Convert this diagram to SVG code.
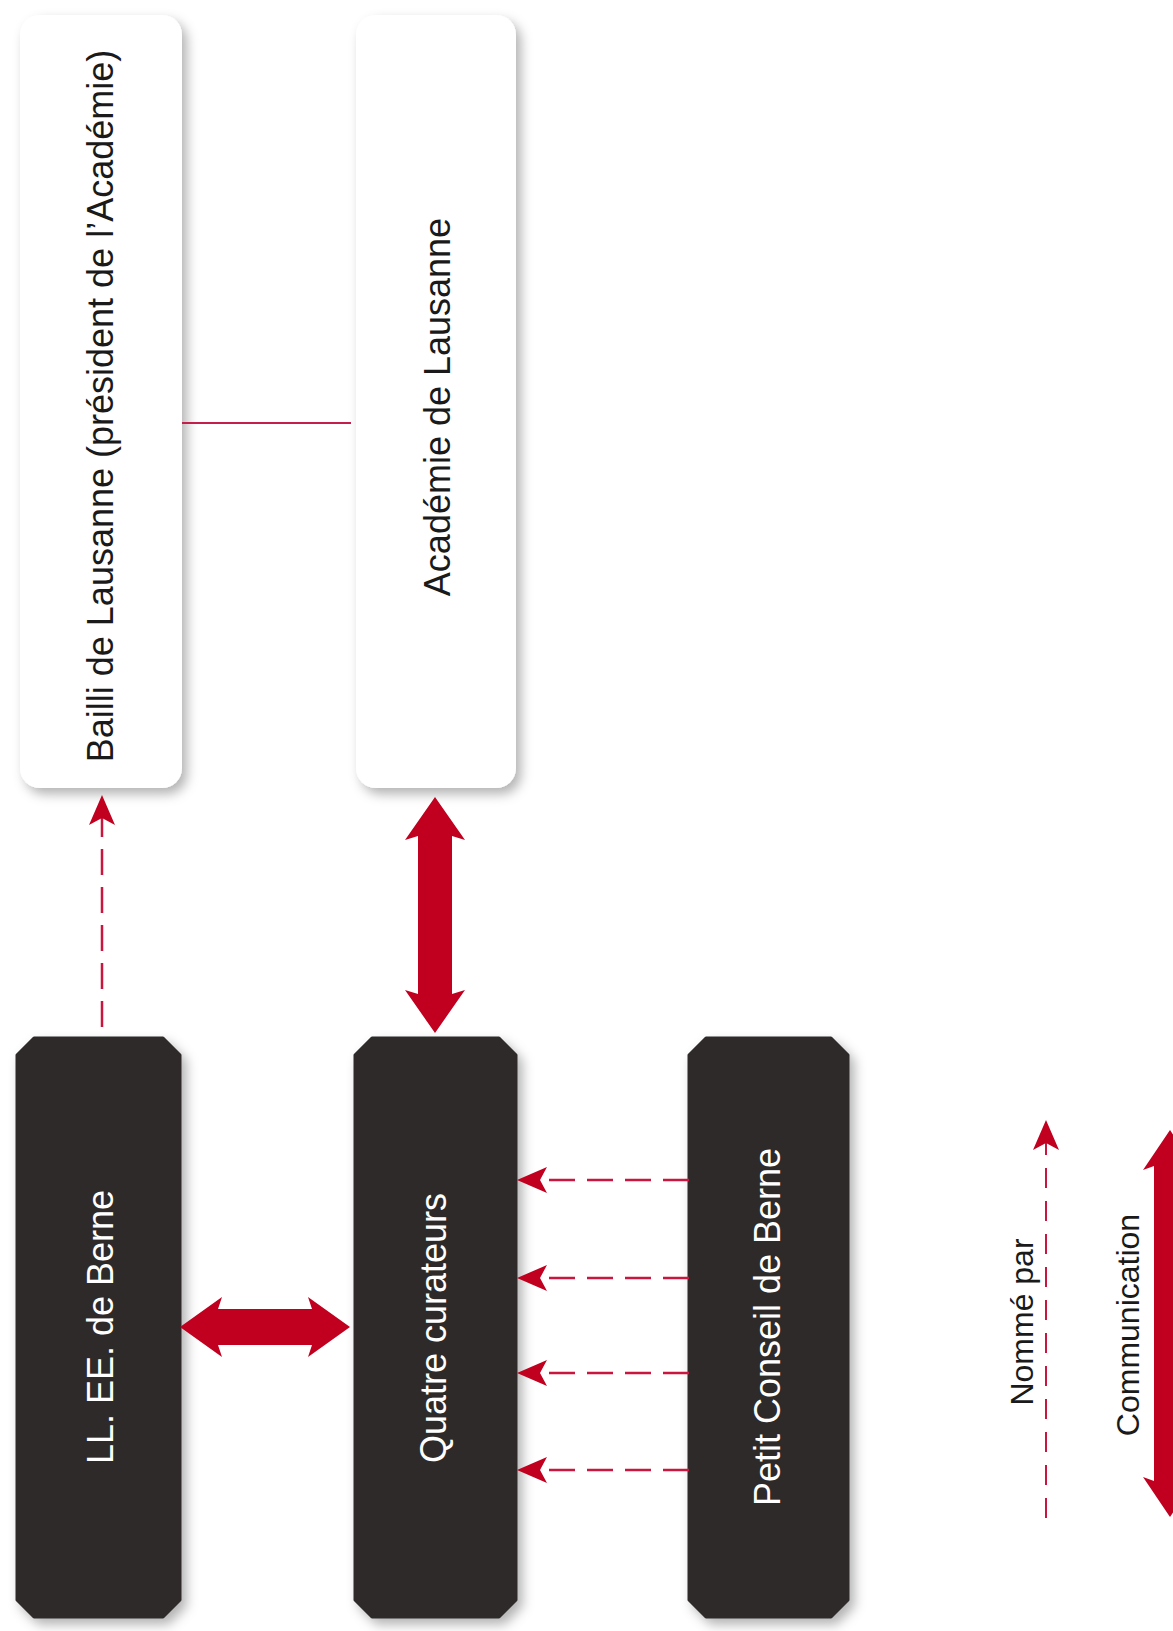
<svg xmlns="http://www.w3.org/2000/svg" width="1173" height="1631" viewBox="0 0 1173 1631">
  <style>
    .wbox { fill: #ffffff; filter: url(#shadow); }
    .dbox { fill: #2f2b2c; stroke: #2f2b2c; stroke-width: 3; stroke-linejoin: round; filter: url(#shadow); }
    .lbl { font-family: "Liberation Sans", Arial, sans-serif; font-size: 36px; text-anchor: middle; }
    .dark { fill: #1a1a1a; }
    .light { fill: #ffffff; }
    .leg { font-family: "Liberation Sans", Arial, sans-serif; font-size: 32px; text-anchor: middle; fill: #1a1a1a; }
    .dash { fill: none; stroke: #c8163f; stroke-width: 2.5; stroke-dasharray: 26 12; marker-end: url(#head); }
    .dash.legdash { stroke-width: 2; stroke-dasharray: 20 13; }
    .thin { fill: none; stroke: #c2204a; stroke-width: 2; }
    .thick { fill: #c10020; }
  </style>
  <defs>
    <filter id="shadow" x="-20%" y="-10%" width="150%" height="130%">
      <feDropShadow dx="5" dy="6" stdDeviation="6" flood-color="#000" flood-opacity="0.3"/>
    </filter>
    <marker id="head" markerUnits="userSpaceOnUse" markerWidth="30" markerHeight="26" viewBox="0 0 30 26" refX="7" refY="13" orient="auto">
      <path d="M0,0 L30,13 L0,26 L7,13 Z" fill="#c10020"/>
    </marker>
  </defs>
  <rect width="1173" height="1631" fill="#ffffff"/>

  <g id="bailli">
    <rect class="wbox" x="20" y="15" width="162" height="773" rx="20" ry="20"/>
    <text class="lbl dark" transform="translate(113,406) rotate(-90)">Bailli de Lausanne (président de l’Académie)</text>
  </g>
  <g id="academie">
    <rect class="wbox" x="356" y="15" width="160" height="773" rx="20" ry="20"/>
    <text class="lbl dark" transform="translate(450,407) rotate(-90)">Académie de Lausanne</text>
  </g>
  <g id="llee">
    <path class="dbox" d="M34,1038 H163 L180,1055 V1600 L163,1617 H34 L17,1600 V1055 Z"/>
    <text class="lbl light" transform="translate(113,1327) rotate(-90)">LL. EE. de Berne</text>
  </g>
  <g id="quatre">
    <path class="dbox" d="M372,1038 H499 L516,1055 V1600 L499,1617 H372 L355,1600 V1055 Z"/>
    <text class="lbl light" transform="translate(446,1328) rotate(-90)">Quatre curateurs</text>
  </g>
  <g id="petit">
    <path class="dbox" d="M706,1038 H831 L848,1055 V1600 L831,1617 H706 L689,1600 V1055 Z"/>
    <text class="lbl light" transform="translate(780,1327) rotate(-90)">Petit Conseil de Berne</text>
  </g>

  <g id="connectors">
    <line class="thin" x1="182" y1="423" x2="351" y2="423"/>
    <path class="dash" d="M102,1027 V818"/>
    <polygon class="thick" points="435,797 465,840 452,836 452,994 465,990 435,1033 405,990 418,994 418,836 405,840"/>
    <polygon class="thick" points="180,1327 222,1297 218,1309 312,1309 308,1297 350,1327 308,1357 312,1345 218,1345 222,1357"/>
    <path class="dash" d="M689,1180 H540"/>
    <path class="dash" d="M689,1278 H540"/>
    <path class="dash" d="M689,1373 H540"/>
    <path class="dash" d="M689,1470 H540"/>
  </g>

  <g id="legend">
    <path class="dash legdash" d="M1046,1518 V1143"/>
    <text class="leg" transform="translate(1033,1322) rotate(-90)">Nommé par</text>
    <polygon class="thick" points="1170,1130 1197,1170 1186,1166 1186,1481 1197,1477 1170,1517 1143,1477 1154,1481 1154,1166 1143,1170"/>
    <text class="leg" transform="translate(1139,1325) rotate(-90)">Communication</text>
  </g>
</svg>
